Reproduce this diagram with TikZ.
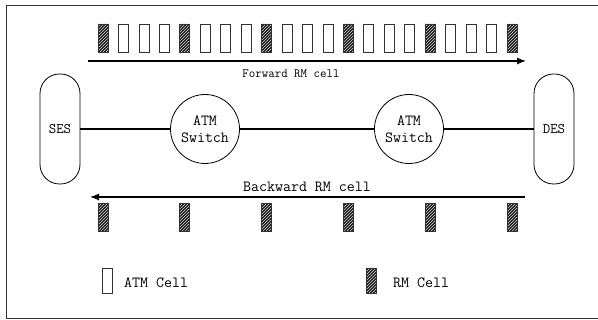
\documentclass[tikz,border=0pt]{standalone}
\usepackage{fontspec}
\usetikzlibrary{patterns,arrows.meta}
\tikzset{
  atmcell/.style={draw=black!80,line width=0.8pt,fill=white,minimum width=10pt,minimum height=28pt,inner sep=0pt},
  rmcell/.style={atmcell,preaction={fill=black!90},pattern=north east lines,pattern color=white!85!black},
  endsys/.style={draw,line width=0.8pt,rounded corners=19.5pt,minimum width=40pt,minimum height=110pt,font=\ttfamily\fontsize{14.5}{15}\selectfont},
  switch/.style={draw,circle,line width=0.8pt,minimum size=69pt,inner sep=0pt,align=center,font=\ttfamily\fontsize{15.5}{17}\selectfont},
  lbl/.style={font=\ttfamily\fontsize{15.5}{17}\selectfont,inner sep=0pt}
}
\begin{document}
\begin{tikzpicture}[x=1pt,y=-1pt]
  \useasboundingbox (0,0) rectangle (598,320);
  \draw[line width=0.9pt,black!80] (6,5) rectangle (602,318);
  % forward stream
  \foreach \n in {0,...,20}{
    \pgfmathtruncatemacro\r{mod(\n,4)}
    \ifnum\r=0
      \node[rmcell] (fw\n) at ({103+\n*20.45},38) {};
    \else
      \node[atmcell] (fw\n) at ({103+\n*20.45},38) {};
    \fi
  }
  \coordinate (fwdL) at (88,61);
  \coordinate (fwdR) at (526,61);
  \draw[line width=1.2pt,-{Latex[length=9pt,width=7pt]}] (fwdL) -- (fwdR);
  \node[font=\ttfamily\fontsize{12.6}{14}\selectfont] (fwdtxt) at (291,74) {Forward RM cell};
  % end systems and switches
  \node[endsys] (ses) at (60,129) {SES};
  \node[endsys] (des) at (554,129) {DES};
  \node[switch] (swa) at (205,129) {ATM\\Switch};
  \node[switch] (swb) at (409,129) {ATM\\Switch};
  \draw[line width=2.8pt] (ses) -- (swa) (swa) -- (swb) (swb) -- (des);
  % backward stream
  \coordinate (bwdR) at (525,197);
  \coordinate (bwdL) at (90,197);
  \draw[line width=1.2pt,-{Latex[length=9pt,width=7pt]}] (bwdR) -- (bwdL);
  \node[lbl] (bwdtxt) at (307,187) {Backward RM cell};
  \foreach \n in {0,...,5}{
    \node[rmcell] (bw\n) at ({103+\n*81.8},217.5) {};
  }
  % legend
  \node[atmcell,minimum height=25pt] (keya) at (107.5,280.5) {};
  \node[lbl,anchor=west] (keyatxt) at (124,283) {ATM Cell};
  \node[rmcell,minimum height=25pt] (keyb) at (371,280.5) {};
  \node[lbl,anchor=west] (keybtxt) at (393,283) {RM Cell};
\end{tikzpicture}
\end{document}
